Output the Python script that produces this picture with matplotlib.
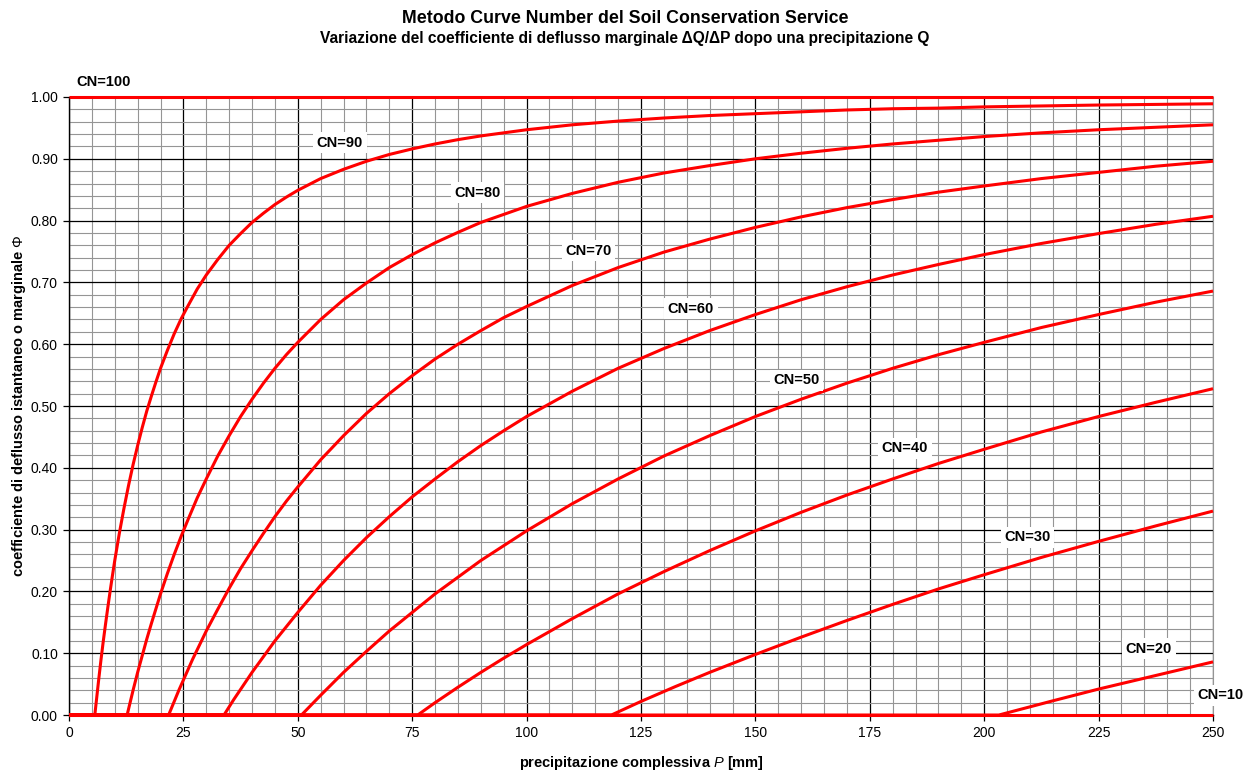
import matplotlib.pyplot as plt
from matplotlib.ticker import MultipleLocator, FormatStrFormatter

plt.rcParams['font.family'] = ['Liberation Sans', 'DejaVu Sans']
plt.rcParams['mathtext.fontset'] = 'custom'
plt.rcParams['mathtext.rm'] = 'Liberation Sans'
plt.rcParams['mathtext.it'] = 'Liberation Sans:italic'
plt.rcParams['mathtext.bf'] = 'Liberation Sans:bold'

# Coefficiente di deflusso marginale per ogni CN (P in mm)
p_cn100 = [0, 250]
phi_cn100 = [1.0, 1.0]

p_cn90 = [0, 5.64, 6.5, 7, 7.5, 8, 8.5, 9, 9.5, 10, 11, 12, 13, 14, 15, 16, 17,
          18, 19, 20, 21.5, 23, 24.5, 26, 28, 30, 32.5, 35, 37.5, 40, 42.5, 45,
          47.5, 50, 55, 60, 65, 70, 75, 80, 85, 90, 95, 100, 110, 120, 130, 140,
          150, 160, 170, 180, 190, 200, 225, 250]
phi_cn90 = [0, 0, 0.058, 0.090, 0.120, 0.148, 0.175, 0.201, 0.226, 0.250, 0.294,
            0.334, 0.371, 0.405, 0.436, 0.465, 0.492, 0.516, 0.539, 0.561, 0.590,
            0.617, 0.641, 0.662, 0.689, 0.712, 0.737, 0.760, 0.779, 0.797, 0.812,
            0.826, 0.838, 0.849, 0.868, 0.883, 0.896, 0.907, 0.916, 0.924, 0.931,
            0.937, 0.942, 0.947, 0.955, 0.961, 0.966, 0.970, 0.973, 0.976, 0.979,
            0.981, 0.982, 0.984, 0.987, 0.989]

p_cn80 = [0, 12.7, 14, 15, 16, 17, 18, 19, 20, 21.5, 23, 24.5, 26, 28, 30, 32.5,
          35, 37.5, 40, 42.5, 45, 47.5, 50, 55, 60, 65, 70, 75, 80, 85, 90, 95,
          100, 110, 120, 130, 140, 150, 160, 170, 180, 190, 200, 212.5, 225,
          237.5, 250]
phi_cn80 = [0, 0, 0.040, 0.069, 0.096, 0.123, 0.148, 0.172, 0.196, 0.229, 0.260,
            0.289, 0.316, 0.351, 0.382, 0.419, 0.452, 0.483, 0.511, 0.537, 0.561,
            0.583, 0.603, 0.640, 0.672, 0.699, 0.724, 0.745, 0.764, 0.781, 0.797,
            0.810, 0.823, 0.844, 0.862, 0.877, 0.889, 0.900, 0.909, 0.917, 0.924,
            0.930, 0.936, 0.942, 0.947, 0.951, 0.955]

p_cn70 = [0, 21.77, 24, 25.5, 27, 28.5, 30, 32.5, 35, 37.5, 40, 42.5, 45, 47.5,
          50, 55, 60, 65, 70, 75, 80, 85, 90, 95, 100, 110, 120, 130, 140, 150,
          160, 170, 180, 190, 200, 212.5, 225, 237.5, 250]
phi_cn70 = [0, 0, 0.040, 0.065, 0.090, 0.113, 0.136, 0.171, 0.205, 0.237, 0.266,
            0.294, 0.321, 0.346, 0.369, 0.413, 0.452, 0.488, 0.520, 0.549, 0.576,
            0.600, 0.622, 0.643, 0.661, 0.695, 0.724, 0.749, 0.770, 0.789, 0.806,
            0.821, 0.834, 0.846, 0.856, 0.868, 0.878, 0.888, 0.896]

p_cn60 = [0, 33.87, 36, 40, 45, 50, 55, 60, 65, 70, 75, 80, 85, 90, 95, 100, 110,
          120, 130, 140, 150, 160, 170, 180, 190, 200, 212.5, 225, 237.5, 250]
phi_cn60 = [0, 0, 0.025, 0.069, 0.120, 0.166, 0.210, 0.250, 0.287, 0.321, 0.353,
            0.382, 0.410, 0.436, 0.460, 0.483, 0.524, 0.561, 0.593, 0.622, 0.648,
            0.672, 0.693, 0.712, 0.729, 0.745, 0.763, 0.779, 0.794, 0.807]

p_cn50 = [0, 50.8, 55, 60, 65, 70, 75, 80, 85, 90, 95, 100, 110, 120, 130, 140,
          150, 160, 170, 180, 190, 200, 212.5, 225, 237.5, 250]
phi_cn50 = [0, 0, 0.032, 0.069, 0.103, 0.136, 0.166, 0.196, 0.223, 0.250, 0.274,
            0.298, 0.342, 0.382, 0.419, 0.452, 0.483, 0.511, 0.537, 0.561, 0.583,
            0.603, 0.627, 0.648, 0.668, 0.686]

p_cn40 = [0, 76.2, 80, 85, 90, 95, 100, 110, 120, 130, 140, 150, 160, 170, 180,
          190, 200, 212.5, 225, 237.5, 250]
phi_cn40 = [0, 0, 0.020, 0.045, 0.069, 0.092, 0.114, 0.156, 0.196, 0.232, 0.266,
            0.298, 0.328, 0.356, 0.382, 0.407, 0.430, 0.458, 0.483, 0.506, 0.528]

p_cn30 = [0, 118.53, 125, 132.5, 140, 150, 160, 170, 180, 190, 200, 212.5, 225,
          237.5, 250]
phi_cn30 = [0, 0, 0.022, 0.046, 0.069, 0.098, 0.126, 0.153, 0.179, 0.204, 0.227,
            0.255, 0.281, 0.306, 0.330]

p_cn20 = [0, 203.2, 215, 225, 250]
phi_cn20 = [0, 0, 0.023, 0.042, 0.086]

p_cn10 = [0, 250]
phi_cn10 = [0, 0]

curve = {
    'CN=100': (p_cn100, phi_cn100),
    'CN=90': (p_cn90, phi_cn90),
    'CN=80': (p_cn80, phi_cn80),
    'CN=70': (p_cn70, phi_cn70),
    'CN=60': (p_cn60, phi_cn60),
    'CN=50': (p_cn50, phi_cn50),
    'CN=40': (p_cn40, phi_cn40),
    'CN=30': (p_cn30, phi_cn30),
    'CN=20': (p_cn20, phi_cn20),
    'CN=10': (p_cn10, phi_cn10),
}

# posizione delle etichette (P, phi)
etichette = {
    'CN=100': (7.6, 1.025),
    'CN=90': (59.2, 0.926),
    'CN=80': (89.2, 0.845),
    'CN=70': (113.6, 0.751),
    'CN=60': (135.9, 0.657),
    'CN=50': (158.9, 0.542),
    'CN=40': (182.7, 0.432),
    'CN=30': (209.4, 0.288),
    'CN=20': (236.0, 0.107),
    'CN=10': (251.6, 0.032),
}

fig = plt.figure(figsize=(12.5, 7.71), dpi=100)
ax = fig.add_axes([0.0552, 0.0726, 0.9152, 0.8016])

for nome, (p, phi) in curve.items():
    ax.plot(p, phi, color='#ff0000', linewidth=2.2, solid_capstyle='butt',
            solid_joinstyle='round', zorder=3, clip_on=False)

for nome, (x, y) in etichette.items():
    bbox = dict(facecolor='white', edgecolor='none', pad=2.5)
    if nome == 'CN=100':
        bbox = None
    ax.text(x, y, nome, ha='center', va='center', fontsize=10.5,
            fontweight='bold', bbox=bbox, zorder=4, clip_on=False)

ax.set_xlim(0, 250)
ax.set_ylim(0, 1)
ax.xaxis.set_major_locator(MultipleLocator(25))
ax.xaxis.set_minor_locator(MultipleLocator(5))
ax.yaxis.set_major_locator(MultipleLocator(0.1))
ax.yaxis.set_minor_locator(MultipleLocator(0.02))
ax.yaxis.set_major_formatter(FormatStrFormatter('%.2f'))

ax.grid(which='minor', color='#959595', linewidth=0.8)
ax.grid(which='major', color='black', linewidth=0.9)
ax.set_axisbelow(True)

ax.tick_params(which='major', direction='out', length=4, width=0.9,
               labelsize=10, pad=4)
ax.tick_params(which='minor', length=0)

ax.spines['top'].set_visible(False)
ax.spines['right'].set_color('#959595')
ax.spines['left'].set_linewidth(1.0)
ax.spines['bottom'].set_linewidth(1.0)

ax.set_xlabel(r'precipitazione complessiva $\mathit{P}$ [mm]', fontsize=10.5,
              fontweight='bold', labelpad=10)
ax.set_ylabel(r'coefficiente di deflusso istantaneo o marginale $\mathit{Φ}$',
              fontsize=10.5, fontweight='bold', labelpad=2)

fig.text(0.5, 0.976, 'Metodo Curve Number del Soil Conservation Service',
         ha='center', va='center', fontsize=12.8, fontweight='bold')
fig.text(0.5, 0.950, 'Variazione del coefficiente di deflusso marginale ΔQ/ΔP dopo una precipitazione Q',
         ha='center', va='center', fontsize=11.2, fontweight='bold')

plt.savefig('out.png', dpi=100)
